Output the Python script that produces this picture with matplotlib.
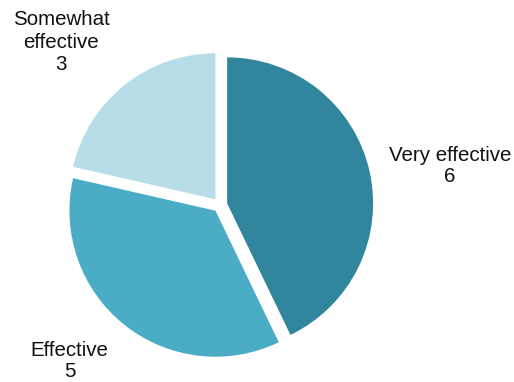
import matplotlib.pyplot as plt

labels = ['Very effective', 'Effective', 'Somewhat\neffective']
counts = [6, 5, 3]
colors = ['#31859C', '#4BACC6', '#B7DEE8']

plt.rcParams['font.family'] = ['Liberation Sans', 'DejaVu Sans']

fig = plt.figure(figsize=(5.14, 3.82), dpi=100)
ax = fig.add_axes([0, 0, 1, 1])
ax.pie(counts, colors=colors, startangle=90, counterclock=False,
       explode=[0.05, 0.05, 0.05], wedgeprops={'linewidth': 0})

# label positions in data units (pie radius = 1) and line spacing
label_pos = [(1.575, 0.267), (-1.03, -1.07), (-1.089, 1.116)]
spacing = [1.12, 1.15, 1.25]
for lab, n, (x, y), ls in zip(labels, counts, label_pos, spacing):
    ax.text(x, y, f'{lab}\n{n}', ha='center', va='center', fontsize=14.8,
            linespacing=ls, color='#111111')

ax.set_xlim(-220 / 146, (514 - 220) / 146)
ax.set_ylim(-177 / 146, 205 / 146)
ax.set_aspect('equal')
ax.axis('off')
fig.savefig('out.png', dpi=100)
